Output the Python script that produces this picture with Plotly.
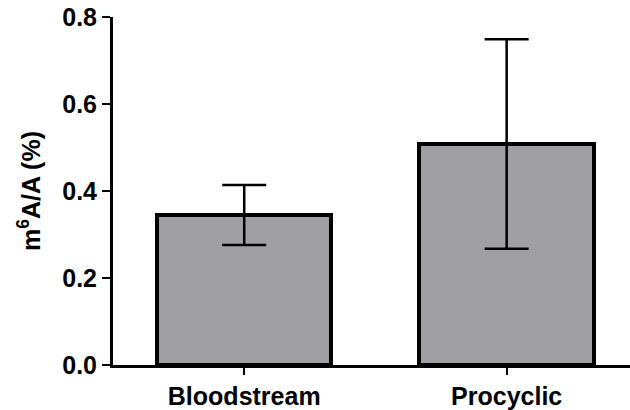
import plotly.graph_objects as go

categories = ["Bloodstream", "Procyclic"]
means = [0.345, 0.508]
errors = [0.069, 0.241]
y_ticks = [0.0, 0.2, 0.4, 0.6, 0.8]
y_tick_labels = ["0.0", "0.2", "0.4", "0.6", "0.8"]

FONT = "Liberation Sans"

fig = go.Figure()
fig.add_trace(go.Bar(
    x=[0, 1], y=means,
    width=0.665,
    marker=dict(color="#A09FA4", line=dict(color="black", width=4)),
    error_y=dict(type="data", array=errors, visible=True,
                 color="black", thickness=2.5, width=22),
    showlegend=False,
))

fig.update_layout(
    width=630, height=410,
    margin=dict(l=113, r=0, t=17, b=43),
    plot_bgcolor="white", paper_bgcolor="white",
    font=dict(family=FONT, size=25, color="black"),
    bargap=0,
)
fig.update_xaxes(
    range=[-0.5, 1.47],
    tickmode="array", tickvals=[0, 1], ticktext=categories,
    ticks="outside", ticklen=7, tickwidth=2, tickcolor="black",
    showline=True, linecolor="black", linewidth=3,
    showgrid=False, zeroline=False,
    tickfont=dict(family=FONT, size=25, color="black", weight="bold"),
)
fig.update_yaxes(
    range=[0, 0.8],
    tickmode="array", tickvals=y_ticks, ticktext=y_tick_labels,
    ticks="outside", ticklen=8, tickwidth=2, tickcolor="black",
    showline=True, linecolor="black", linewidth=3,
    showgrid=False, zeroline=False,
    tickfont=dict(family=FONT, size=25, color="black", weight="bold"),
    title=dict(text="m<sup>6</sup>A/A (%)", standoff=15,
               font=dict(family=FONT, size=25, color="black", weight="bold")),
)

fig.write_html("out.html")
